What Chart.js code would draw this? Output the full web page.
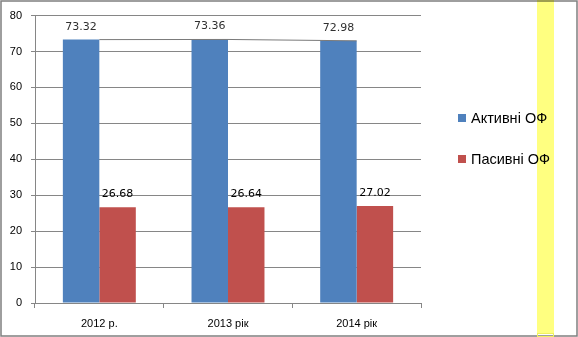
<!DOCTYPE html>
<html>
<head>
<meta charset="utf-8">
<script src="https://cdn.jsdelivr.net/npm/chart.js@4/dist/chart.umd.min.js"></script>
<style>
  html, body { margin: 0; padding: 0; background: #fff; }
  #wrap { position: relative; width: 578px; height: 337px; }
  #legend { position: absolute; left: 458px; top: 110px; font: 14.5px "Liberation Sans", Arial, sans-serif; color: #000; }
  #legend .item { position: absolute; left: 0; white-space: nowrap; height: 16px; line-height: 16px; }
  #legend .box { display: inline-block; width: 8px; height: 8px; margin-right: 5px; vertical-align: 1px; }
</style>
</head>
<body>
<div id="wrap">
  <canvas id="chart" width="578" height="337"></canvas>
  <div id="legend"></div>
</div>
<script>
const years = ['2012 р.', '2013 рік', '2014 рік']
const activeShare = [73.32, 73.36, 72.98]
const passiveShare = [26.68, 26.64, 27.02]
const seriesNames = ['Активні ОФ', 'Пасивні ОФ']
const yTicks = [0, 10, 20, 30, 40, 50, 60, 70, 80]

const blue = '#4f81bd'
const red = '#c0504d'
const gridGray = '#868686'

// frame around the whole picture
const framePlugin = {
  id: 'frame',
  beforeDraw(chart) {
    const ctx = chart.ctx
    ctx.save()
    ctx.fillStyle = '#fff'
    ctx.fillRect(0, 0, chart.width, chart.height)
    ctx.strokeStyle = '#7f7f7f'
    ctx.lineWidth = 1.5
    ctx.strokeRect(1, 1, 576, 335)
    ctx.restore()
  },
  afterDraw(chart) {
    // highlighter stripe on the right
    const ctx = chart.ctx
    ctx.save()
    ctx.globalCompositeOperation = 'multiply'
    ctx.fillStyle = '#ffff80'
    ctx.fillRect(537, 0, 17, 333)
    ctx.restore()
    ctx.save()
    ctx.strokeStyle = '#f0f060'
    ctx.lineWidth = 1
    ctx.strokeRect(537.5, 333.5, 16, 3)
    ctx.restore()
  }
}

// value labels above the bars
const valueLabels = {
  id: 'valueLabels',
  afterDatasetsDraw(chart) {
    const ctx = chart.ctx
    ctx.save()
    ctx.font = '11px "DejaVu Sans", sans-serif'
    ctx.textAlign = 'center'
    ctx.textBaseline = 'alphabetic'
    chart.data.datasets.forEach((ds, i) => {
      if (ds.type === 'line') return
      const meta = chart.getDatasetMeta(i)
      ctx.fillStyle = i === 0 ? '#303030' : '#000'
      meta.data.forEach((bar, j) => {
        ctx.fillText(ds.data[j].toFixed(2), bar.x, bar.y - 10)
      })
    })
    ctx.restore()
  }
}

const ctx = document.getElementById('chart').getContext('2d')
new Chart(ctx, {
  type: 'bar',
  data: {
    labels: years,
    datasets: [
      { label: seriesNames[0], data: activeShare, backgroundColor: blue, order: 2 },
      { label: seriesNames[1], data: passiveShare, backgroundColor: red, order: 2 },
      {
        type: 'line',
        label: '',
        data: activeShare,
        borderColor: '#7a7a7a',
        borderWidth: 1,
        pointRadius: 0,
        fill: false,
        order: 1
      }
    ]
  },
  options: {
    responsive: false,
    animation: false,
    layout: { padding: { left: 0, top: 15, right: 157, bottom: 0 } },
    datasets: {
      bar: { barPercentage: 1, categoryPercentage: 0.567 }
    },
    plugins: {
      legend: { display: false },
      tooltip: { enabled: false }
    },
    scales: {
      x: {
        offset: true,
        grid: { offset: true, drawOnChartArea: false, drawTicks: true, tickLength: 5, color: gridGray },
        border: { color: gridGray },
        ticks: { color: '#000', padding: 9, font: { family: '"Liberation Sans", Arial, sans-serif', size: 11 } },
        afterFit(scale) { scale.height = 34 }
      },
      y: {
        min: yTicks[0],
        max: yTicks[yTicks.length - 1],
        afterBuildTicks(scale) { scale.ticks = yTicks.map(v => ({ value: v })) },
        grid: { color: gridGray, tickLength: 4 },
        border: { color: gridGray },
        ticks: { color: '#000', padding: 9, font: { family: '"Liberation Sans", Arial, sans-serif', size: 11 } },
        afterFit(scale) { scale.width = 35 }
      }
    }
  },
  plugins: [framePlugin, valueLabels]
})

// legend next to the plot
const legend = document.getElementById('legend')
;[blue, red].forEach((c, i) => {
  const item = document.createElement('div')
  item.className = 'item'
  item.style.top = (i * 41) + 'px'
  item.innerHTML = '<span class="box" style="background:' + c + '"></span>' + seriesNames[i]
  legend.appendChild(item)
})
</script>
</body>
</html>
